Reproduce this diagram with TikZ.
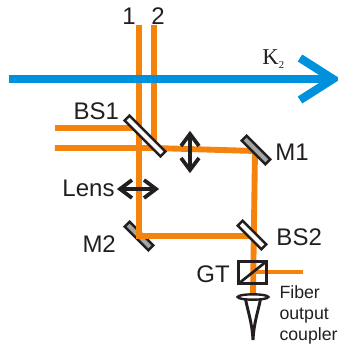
\documentclass[tikz,border=0pt]{standalone}
\usepackage{fontspec}
\usetikzlibrary{shapes.geometric}
\setmainfont{Liberation Sans}
\newfontfamily\serifk{Liberation Serif}
\definecolor{beamorange}{RGB}{245,130,10}
\definecolor{pumpblue}{RGB}{0,145,220}
\definecolor{mirrorgray}{RGB}{165,165,165}
\definecolor{opticblack}{RGB}{35,31,32}
\tikzset{
	every picture/.style={line width=0.75pt},
	beam/.style={draw=beamorange,line width=4.4pt},
	pump/.style={draw=pumpblue,line width=6.2pt},
	mirror/.style={draw=opticblack,line width=1.8pt,fill=mirrorgray,minimum width=25pt,minimum height=5.2pt,inner sep=0pt,rotate=-45},
	splitter/.style={mirror,fill=white},
	lensarrow/.style={draw=opticblack,line width=2.8pt},
	lab/.style={inner sep=0pt,text=opticblack,font=\fontsize{18}{18}\selectfont},
	smalllab/.style={inner sep=0pt,text=opticblack,align=left,font=\fontsize{13.3}{15.7}\selectfont}
}
\begin{document}
\begin{tikzpicture}[x=0.75pt,y=0.75pt,yscale=-1,xscale=1]
	\useasboundingbox (0,0) rectangle (338,344);

	%Points on the beams
	\coordinate (in1) at (139,25);
	\coordinate (in2) at (154,25);
	\coordinate (left1) at (55,128);
	\coordinate (left2) at (55,148);
	\coordinate (turn2) at (154,148);
	\coordinate (turnM1) at (255,151);
	\coordinate (turnM2) at (139,236);
	\coordinate (turnBS2) at (253,236);
	\coordinate (gtmid) at (253,272);
	\coordinate (gtout) at (303,272);
	\coordinate (couplertop) at (253,295);
	\coordinate (bs1a) at (133,128);

	%Mirror under the beam
	\node [mirror] (M2) at (139,236) {};

	%Orange beams
	\draw [beam] (in1) -- (turnM2) -- (turnBS2);
	\draw [beam] (in2) -- (turn2);
	\draw [beam] (left1) -- (bs1a);
	\draw [beam] (left2) -- (turn2) -- (turnM1) -- (couplertop);
	\draw [beam,line width=3.4pt] (gtmid) -- (gtout);

	%Blue arrow
	\coordinate (pumpstart) at (9,79);
	\coordinate (pumptip) at (333,79);
	\draw [pump] (pumpstart) -- (pumptip);
	\draw [pump,miter limit=10] (300,58) -- (pumptip) -- (300,100);

	%Mirrors
	\node [splitter,minimum width=38pt] (BS1) at (145,136) {};
	\node [mirror] (M1) at (256,150) {};
	\node [splitter] (BS2) at (252,235) {};

	%Double arrows
	\coordinate (upperA) at (190,134);
	\coordinate (upperB) at (190,170);
	\coordinate (lensA) at (120,189);
	\coordinate (lensB) at (156,189);
	\draw [lensarrow] (upperA) -- (upperB);
	\draw [lensarrow] (181,146) -- (upperA) -- (199,146);
	\draw [lensarrow] (181,158) -- (upperB) -- (199,158);
	\draw [lensarrow] (lensA) -- (lensB);
	\draw [lensarrow] (132,180) -- (lensA) -- (132,198);
	\draw [lensarrow] (144,180) -- (lensB) -- (144,198);

	%Glan prism
	\node [draw=opticblack,line width=2.2pt,minimum width=21.4pt,minimum height=17pt,inner sep=0pt,outer sep=0pt] (GT) at (252.5,272.5) {};
	\draw [draw=opticblack,line width=2pt] (GT.south west) -- (GT.north east);

	%Output coupler
	\node [draw=opticblack,line width=1.8pt,ellipse,minimum width=23pt,minimum height=4pt,inner sep=0pt,fill=white] (coupler) at (253,297) {};
	\coordinate (coneL) at (245.5,299);
	\coordinate (coneR) at (260.5,299);
	\coordinate (couplertip) at (253,340);
	\draw [lensarrow,line width=2.2pt] (coneL) .. controls (248,312) and (252,322) .. (couplertip) .. controls (254,322) and (258,312) .. (coneR);

	%Labels
	\node [lab] (one) at (129,16) {1};
	\node [lab] (two) at (158,16) {2};
	\node [lab,anchor=west] (BSone) at (73,111) {BS1};
	\node [lab,anchor=west] (Mone) at (275,152) {M1};
	\node [lab,anchor=west] (Lens) at (62,188) {Lens};
	\node [lab,anchor=west] (Mtwo) at (82,244) {M2};
	\node [lab,anchor=west] (BStwo) at (276,237) {BS2};
	\node [lab,anchor=west] (GTlab) at (196,274) {GT};
	\node [smalllab,anchor=north west] (fiber) at (279,285) {Fiber\\output\\coupler};
	\node [lab,anchor=west,font=\serifk\fontsize{17}{17}\selectfont] (Ktwo) at (262,59) {K\raisebox{-3pt}{\fontsize{8}{8}\selectfont 2}};
\end{tikzpicture}
\end{document}
